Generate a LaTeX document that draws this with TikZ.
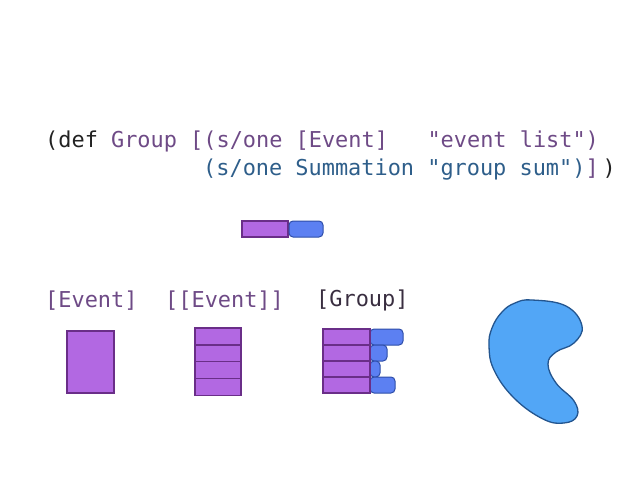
\documentclass[tikz,border=0pt]{standalone}
\usepackage{fontspec}
\setmonofont{DejaVu Sans Mono}
\definecolor{kwblack}{HTML}{222222}
\definecolor{kwpurple}{HTML}{6E4A86}
\definecolor{kwblue}{HTML}{2E5E8A}
\definecolor{evfill}{HTML}{B268E2}
\definecolor{evdraw}{HTML}{6A2E88}
\definecolor{pillfill}{HTML}{5C80F2}
\definecolor{pilldraw}{HTML}{2E4DA8}
\definecolor{blobfill}{HTML}{52A6F6}
\definecolor{blobdraw}{HTML}{23558F}
\tikzset{
  code/.style={anchor=base west, inner sep=0pt, font=\ttfamily\fontsize{21.9}{26}\selectfont},
  evbox/.style={fill=evfill, draw=evdraw, line width=1.3pt},
  pill/.style={fill=pillfill, draw=pilldraw, line width=1pt, rounded corners=4pt},
}
\begin{document}
\begin{tikzpicture}[x=1pt,y=-1pt]
\useasboundingbox (0,0) rectangle (638,479);
% code text
\node[code] (line1) at (45,147) {\textcolor{kwblack}{(def }\textcolor{kwpurple}{Group [(s/one [Event]\ \ \ "event list")}};
\node[code] (line2) at (203,175) {\textcolor{kwblue}{(s/one Summation "group sum")}\textcolor{kwpurple}{]}\kern4pt\textcolor{kwblack}{)}};
% top small pair
\draw[evbox, line width=1.1pt] (242,221) rectangle (288,237);
\draw[pill] (289,221) rectangle (323,237);
% labels
\node[code, text=kwpurple] (lab1) at (45,307) {[Event]};
\node[code, text=kwpurple] (lab2) at (165,307) {[[Event]]};
\node[code, text=kwblack!70!kwpurple] (lab3) at (316,306) {[Group]};
% single event
\draw[evbox] (67,331) rectangle (114,393);
% list of events
\foreach \i in {0,1,2,3} {
  \draw[evbox] (195,{328+\i*16.9}) rectangle (241,{328+(\i+1)*16.9});
}
% group
\foreach \i/\w in {0/403,1/387,2/380,3/395} {
  \draw[pill] (370,{329+\i*16}) rectangle (\w,{329+(\i+1)*16});
}
\foreach \i in {0,1,2,3} {
  \draw[evbox] (323,{329+\i*16}) rectangle (370,{329+(\i+1)*16});
}
% blob
\draw[fill=blobfill, draw=blobdraw, line width=1.3pt]
  plot[smooth cycle, tension=0.7] coordinates {
  (532,300) (566,306) (582,326) (574,343) (556,352) (548,364) (556,383) (574,401)
  (577,416) (564,423) (543,419) (514,398) (494,370) (489,346) (492,328) (502,312) (515,303)};
\end{tikzpicture}
\end{document}
